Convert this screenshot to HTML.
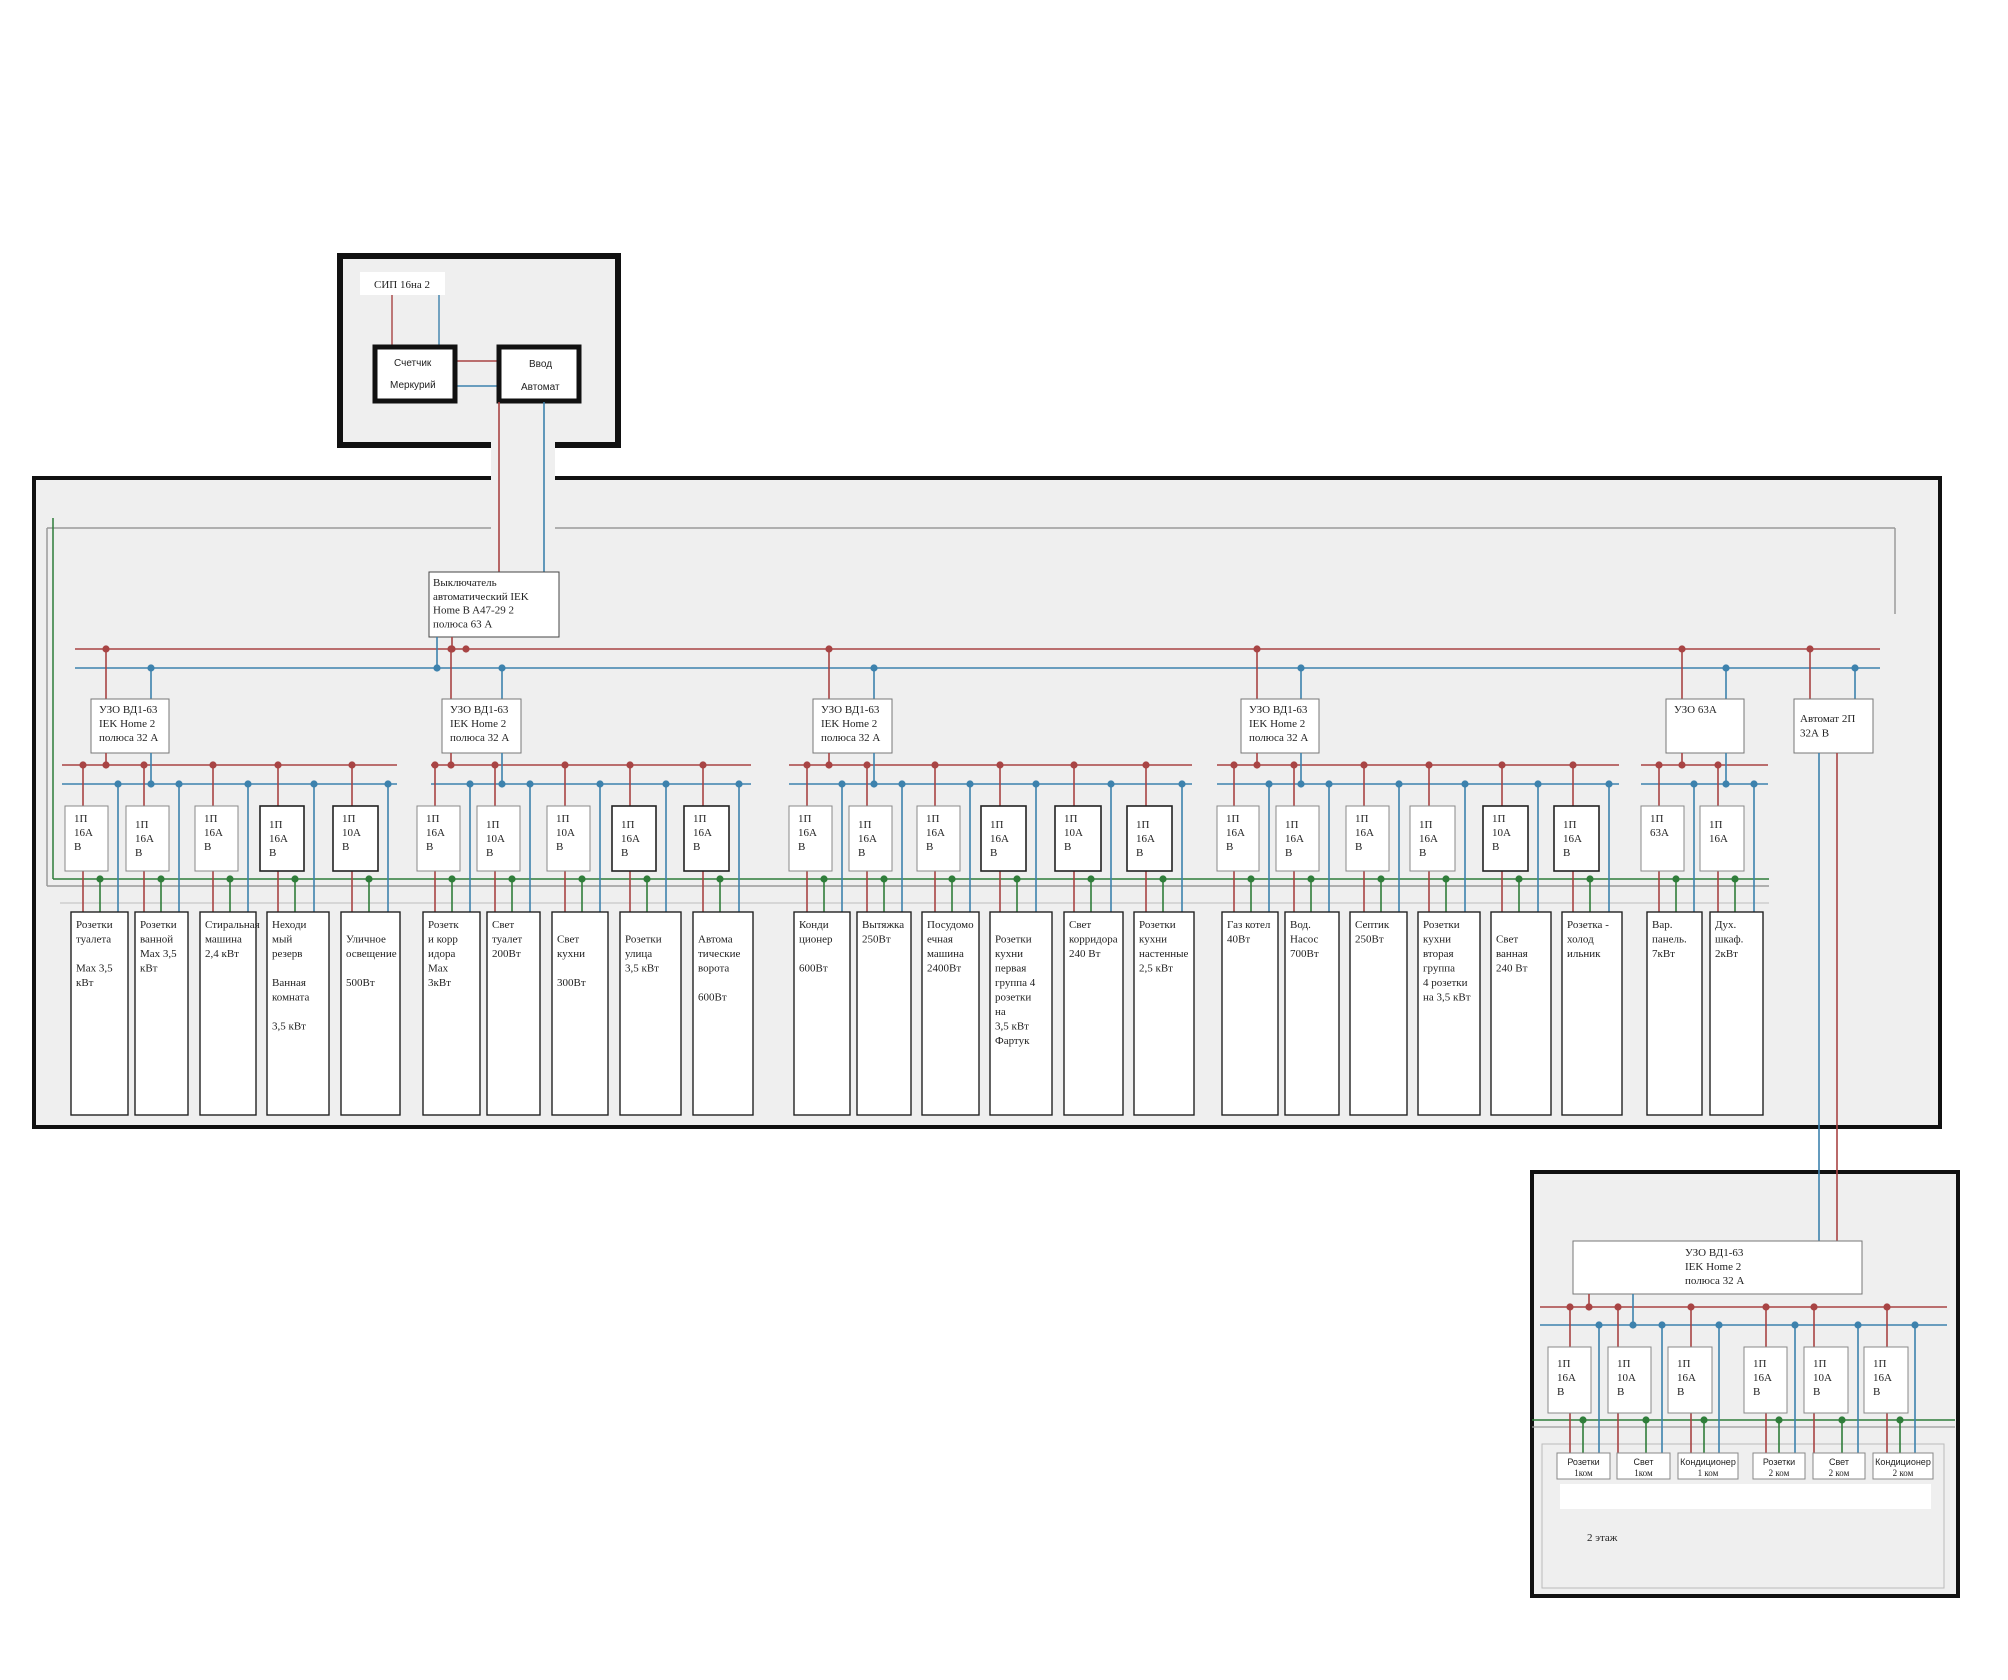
<!DOCTYPE html>
<html><head><meta charset="utf-8">
<style>
html,body{margin:0;padding:0;background:#fff;}
svg{display:block;}
text{font-family:"Liberation Serif","DejaVu Serif",serif;font-size:11px;fill:#222;}
.s{font-family:"Liberation Sans","DejaVu Sans",sans-serif;font-size:10px;}
</style></head>
<body>
<svg id="d" width="2008" height="1680" xmlns="http://www.w3.org/2000/svg"></svg>
<script>
var R="#a84444",B="#3d82ad",G="#2f7d3a",Y="#9a9a9a";
var o=[];
function L(x1,y1,x2,y2,c,w){o.push('<line x1="'+x1+'" y1="'+y1+'" x2="'+x2+'" y2="'+y2+'" stroke="'+c+'" stroke-width="'+(w||1.6)+'"/>');}
function D(x,y,c){o.push('<circle cx="'+x+'" cy="'+y+'" r="3.6" fill="'+c+'"/>');}
function Rc(x,y,w,h,f,s,sw){o.push('<rect x="'+x+'" y="'+y+'" width="'+w+'" height="'+h+'" fill="'+f+'" stroke="'+(s||'none')+'" stroke-width="'+(sw||1)+'"/>');}
function T(x,y,lines,lh,cls){var s='<text x="'+x+'" y="'+y+'"'+(cls?' class="'+cls+'"':'')+'>';lines.forEach(function(l,i){s+='<tspan x="'+x+'" dy="'+(i?lh:0)+'">'+(l===''?'\u00a0':l)+'</tspan>';});o.push(s+'</text>');}

Rc(34,478,1906,649,"#efefef","#111",4);
Rc(340,256,278,189,"#efefef","#111",6);
Rc(491,440,64,45,"#efefef");
Rc(360,272,85,23,"#fff");
T(374,288,["СИП 16на 2"],14);
L(392,295,392,345,R,1.4);L(439,295,439,345,B,1.4);
L(456,361,497,361,R,1.4);L(456,386,497,386,B,1.4);
Rc(375,347,80,54,"#fff","#111",5);
Rc(499,347,80,54,"#fff","#111",5);
T(394,366,["Счетчик"],0,"s");T(390,388,["Меркурий"],0,"s");
T(529,367,["Ввод"],0,"s");T(521,390,["Автомат"],0,"s");
L(499,402,499,572,R);L(544,402,544,572,B);
L(47,528,491,528,Y,1.5);L(555,528,1895,528,Y,1.5);L(1895,528,1895,614,Y,1.5);
L(47,528,47,886,Y,1.5);L(47,886,1769,886,Y,1.5);
L(53,518,53,879,G,1.5);L(53,879,1769,879,G,1.5);
L(60,903,1769,903,"#c8c8c8",1.2);
L(75,649,1880,649,R);L(75,668,1880,668,B);
Rc(429,572,130,65,"#fff","#444",1);
T(433,586,["Выключатель","автоматический IEK","Home B A47-29 2","полюса 63 А"],13.8);
L(437,637,437,668,B);D(437,668,B);
L(452,637,452,649,R);D(452,649,R);D(466,649,R);

var groups=[
 {u:[91,169],ur:106,ub:151,bus:[62,397],uz:["УЗО ВД1-63","IEK Home 2","полюса 32 А"],
  br:[[65,108,"16А"],[126,169,"16А"],[195,238,"16А"],[260,304,"16А",1],[333,378,"10А",1]],
  ld:[[71,128,["Розетки","туалета","","Мах 3,5","кВт"]],[135,188,["Розетки","ванной","Мах 3,5","кВт"]],[200,256,["Стиральная","машина","2,4 кВт"]],[267,329,["Неходи","мый","резерв","","Ванная","комната","","3,5 кВт"]],[341,400,["","Уличное","освещение","","500Вт"]]]},
 {u:[442,521],ur:451,ub:502,bus:[431,751],uz:["УЗО ВД1-63","IEK Home 2","полюса 32 А"],
  br:[[417,460,"16А"],[477,520,"10А"],[547,590,"10А"],[612,656,"16А",1],[684,729,"16А",1]],
  ld:[[423,480,["Розетк","и корр","идора","Мах","3кВт"]],[487,540,["Свет","туалет","200Вт"]],[552,608,["","Свет","кухни","","300Вт"]],[620,681,["","Розетки","улица","3,5 кВт"]],[693,753,["","Автома","тические","ворота","","600Вт"]]]},
 {u:[813,892],ur:829,ub:874,bus:[789,1192],uz:["УЗО ВД1-63","IEK Home 2","полюса 32 А"],
  br:[[789,832,"16А"],[849,892,"16А"],[917,960,"16А"],[981,1026,"16А",1],[1055,1101,"10А",1],[1127,1172,"16А",1]],
  ld:[[794,850,["Конди","ционер","","600Вт"]],[857,911,["Вытяжка","250Вт"]],[922,979,["Посудомо","ечная","машина","2400Вт"]],[990,1052,["","Розетки","кухни","первая","группа 4","розетки","на","3,5 кВт","Фартук"]],[1064,1123,["Свет","корридора","240 Вт"]],[1134,1194,["Розетки","кухни","настенные","2,5 кВт"]]]},
 {u:[1241,1319],ur:1257,ub:1301,bus:[1217,1619],uz:["УЗО ВД1-63","IEK Home 2","полюса 32 А"],
  br:[[1217,1259,"16А"],[1276,1319,"16А"],[1346,1389,"16А"],[1410,1455,"16А"],[1483,1528,"10А",1],[1554,1599,"16А",1]],
  ld:[[1222,1278,["Газ котел","40Вт"]],[1285,1339,["Вод.","Насос","700Вт"]],[1350,1407,["Септик","250Вт"]],[1418,1480,["Розетки","кухни","вторая","группа","4 розетки","на 3,5 кВт"]],[1491,1551,["","Свет","ванная","240 Вт"]],[1562,1622,["Розетка -","холод","ильник"]]]},
 {u:[1666,1744],ur:1682,ub:1726,bus:[1641,1768],uz:["УЗО 63А"],
  br:[[1641,1684,"63А",0,1],[1700,1744,"16А",0,1]],
  ld:[[1647,1702,["Вар.","панель.","7кВт"]],[1710,1763,["Дух.","шкаф.","2кВт"]]]}
];
groups.forEach(function(g){
 L(g.ur,649,g.ur,699,R);D(g.ur,649,R);
 L(g.ub,668,g.ub,699,B);D(g.ub,668,B);
 Rc(g.u[0],699,g.u[1]-g.u[0],54,"#fff","#777",1);
 T(g.u[0]+8,713,g.uz,14);
 L(g.bus[0],765,g.bus[1],765,R);L(g.bus[0],784,g.bus[1],784,B);
 L(g.ur,753,g.ur,765,R);D(g.ur,765,R);
 L(g.ub,753,g.ub,784,B);D(g.ub,784,B);
 g.br.forEach(function(b,i){
  var cx=(b[0]+b[1])/2, rx=Math.round(cx-4), gx=Math.round(cx+13), bx=b[1]+10;
  L(rx,765,rx,806,R);D(rx,765,R);
  L(bx,784,bx,912,B);D(bx,784,B);
  L(rx,871,rx,912,R);L(gx,879,gx,912,G);D(gx,879,G);
  Rc(b[0],806,b[1]-b[0],65,"#fff",b[3]?"#222":"#888",b[3]?1.6:1);
  var ls=b[4]?["1П",b[2]]:["1П",b[2],"В"];
  T(b[0]+9,822+(i%2)*6,ls,14);
 });
 g.ld.forEach(function(l){
  Rc(l[0],912,l[1]-l[0],203,"#fff","#222",1.4);
  T(l[0]+5,928,l[2],14.5);
 });
});
L(1810,649,1810,699,R);D(1810,649,R);
L(1855,668,1855,699,B);D(1855,668,B);
Rc(1794,699,79,54,"#fff","#777",1);
T(1800,722,["Автомат 2П","32А  В"],14.5);

Rc(1532,1172,426,424,"#efefef","#111",4);
L(1819,753,1819,1241,B);L(1837,753,1837,1241,R);
Rc(1573,1241,289,53,"#fff","#777",1);
T(1685,1256,["УЗО ВД1-63","IEK Home 2","полюса 32 А"],14);
L(1540,1307,1947,1307,R);L(1540,1325,1947,1325,B);
L(1589,1294,1589,1307,R);D(1589,1307,R);
L(1633,1294,1633,1325,B);D(1633,1325,B);
L(1532,1420,1955,1420,G);L(1532,1427,1955,1427,Y,1.2);
Rc(1542,1444,402,144,"#efefef","#bbb",1);
var f=[[1548,1591,"16А",1570,1583,1599,["Розетки","1ком"]],[1608,1651,"10А",1618,1646,1662,["Свет","1ком"]],[1668,1712,"16А",1691,1704,1719,["Кондиционер","1 ком"]],[1744,1787,"16А",1766,1779,1795,["Розетки","2 ком"]],[1804,1848,"10А",1814,1842,1858,["Свет","2 ком"]],[1864,1908,"16А",1887,1900,1915,["Кондиционер","2 ком"]]];
var lx=[[1557,1610],[1617,1670],[1678,1738],[1753,1805],[1813,1865],[1873,1933]];
f.forEach(function(b,i){
 L(b[3],1307,b[3],1347,R);D(b[3],1307,R);
 L(b[5],1325,b[5],1453,B);D(b[5],1325,B);
 L(b[3],1413,b[3],1453,R);L(b[4],1420,b[4],1453,G);D(b[4],1420,G);
 Rc(b[0],1347,b[1]-b[0],66,"#fff","#888",1);
 T(b[0]+9,1367,["1П",b[2],"В"],14);
 Rc(lx[i][0],1453,lx[i][1]-lx[i][0],26,"#fff","#888",1);
 var cx=(lx[i][0]+lx[i][1])/2;
 o.push('<text class="s" text-anchor="middle" x="'+cx+'" y="1465" style="font-size:9px">'+b[6][0]+'</text>');
 o.push('<text text-anchor="middle" x="'+cx+'" y="1476" style="font-size:9px">'+b[6][1]+'</text>');
});
Rc(1560,1484,371,25,"#fff");
T(1587,1541,["2 этаж"],14);
document.getElementById("d").innerHTML=o.join("");
</script>
</body></html>
